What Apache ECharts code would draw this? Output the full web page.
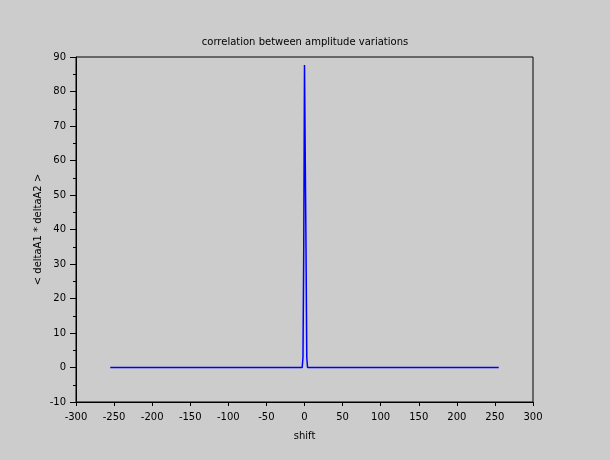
<!DOCTYPE html>
<html>
<head>
<meta charset="utf-8">
<script src="https://cdn.jsdelivr.net/npm/echarts@6/dist/echarts.min.js"></script>
<style>
html,body{margin:0;padding:0;background:#cccccc;}
#chart{width:610px;height:460px;}
</style>
</head>
<body>
<div id="chart"></div>
<script>
// key points (shift, correlation); baseline is flat between them
const shifts = [-255, -83, -82, -81, -34, -33, -32, -24, -23, -22, -16, -15, -14, -13, -12, -11,
  -3, -2, -1, 0, 1, 2, 3, 4, 10, 11, 12, 14, 15, 16, 22, 23, 24, 33, 34, 35, 81, 82, 83, 255];
const values = [0, 0, 0.3, 0, 0, -0.3, 0, 0, 0.3, 0, 0, -0.3, 0, 0, -0.3, 0,
  0, 2.9, 34.5, 87.7, 87.7, 34.5, 2.9, 0, 0, -0.3, 0, 0, -0.3, 0, 0, 0.3, 0, 0, -0.3, 0, 0, 0.3, 0, 0];
const titleText = 'correlation between amplitude variations';
const xName = 'shift';
const yName = '< deltaA1 * deltaA2 >';

const chart = echarts.init(document.getElementById('chart'), null, {renderer: 'canvas'});
const font = 'DejaVu Sans';
chart.setOption({
  backgroundColor: '#cccccc',
  animation: false,
  title: {
    text: titleText, left: 'center', top: 32,
    textStyle: {fontFamily: font, fontSize: 10, fontWeight: 'normal', color: '#000'}
  },
  grid: {left: 76, right: 77, top: 57, bottom: 58, show: true, borderColor: '#000', borderWidth: 1, backgroundColor: 'transparent'},
  xAxis: {
    type: 'value', min: -300, max: 300, interval: 50,
    name: xName, nameLocation: 'middle', nameGap: 29, nameMoveOverlap: false,
    nameTextStyle: {fontFamily: font, fontSize: 10, color: '#000'},
    axisLine: {show: true, onZero: false, lineStyle: {color: '#000', width: 1}},
    axisTick: {show: true, length: 4, lineStyle: {color: '#000'}},
    axisLabel: {fontFamily: font, fontSize: 10, color: '#000', margin: 10},
    splitLine: {show: false}
  },
  yAxis: {
    type: 'value', min: -10, max: 90, interval: 10,
    name: yName, nameLocation: 'middle', nameGap: 33, nameMoveOverlap: false,
    nameTextStyle: {fontFamily: font, fontSize: 10, color: '#000'},
    axisLine: {show: true, onZero: false, lineStyle: {color: '#000', width: 1}},
    axisTick: {show: true, length: 6, lineStyle: {color: '#000'}},
    minorTick: {show: true, splitNumber: 2, length: 3, lineStyle: {color: '#000'}},
    axisLabel: {fontFamily: font, fontSize: 10, color: '#000', margin: 10},
    splitLine: {show: false}
  },
  series: [{
    type: 'line',
    data: shifts.map((s, i) => [s, values[i]]),
    showSymbol: false,
    lineStyle: {color: '#0000ff', width: 1.5},
    itemStyle: {color: '#0000ff'}
  }]
});
</script>
</body>
</html>
